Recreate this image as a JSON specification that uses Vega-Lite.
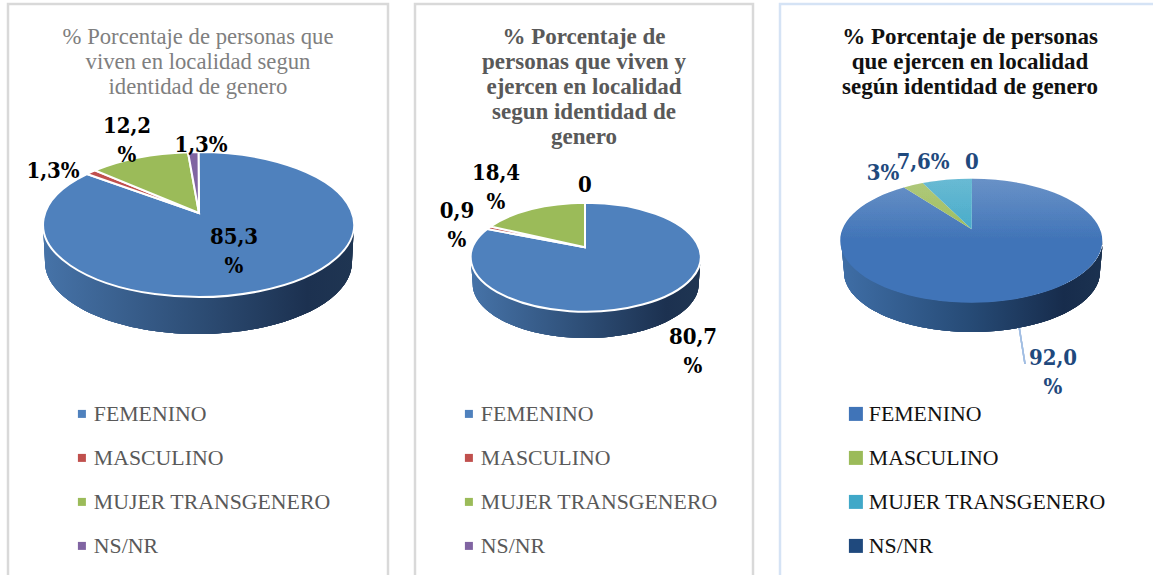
{"$schema":"https://vega.github.io/schema/vega-lite/v6.json","background":"white","padding":{"left":6,"top":2,"right":0,"bottom":0},"spacing":23,"resolve":{"scale":{"color":"independent","fill":"independent","shape":"independent"},"legend":{"color":"independent"}},"datasets":{"p1":[{"category":"FEMENINO","slice":"a","value":85.3,"label":"85,3\n%"},{"category":"MASCULINO","slice":"b","value":1.3,"label":"1,3%"},{"category":"MUJER TRANSGENERO","slice":"c","value":12.2,"label":"12,2\n%"},{"category":"NS/NR","slice":"d","value":1.3,"label":"1,3%"}],"p2":[{"category":"FEMENINO","slice":"a","value":80.7,"label":"80,7\n%"},{"category":"MASCULINO","slice":"b","value":0.9,"label":"0,9\n%"},{"category":"MUJER TRANSGENERO","slice":"c","value":18.4,"label":"18,4\n%"},{"category":"NS/NR","slice":"d","value":0,"label":"0"}],"p3":[{"category":"FEMENINO","slice":"a","value":92.0,"label":"92,0\n%"},{"category":"MASCULINO","slice":"b","value":3,"label":"3%"},{"category":"MUJER TRANSGENERO","slice":"c","value":7.6,"label":"7,6%"},{"category":"NS/NR","slice":"d","value":0,"label":"0"}]},"config":{"text":{"font":"DejaVu Serif Condensed","fontWeight":"bold","fontSize":22,"lineBreak":"\n","lineHeight":29,"baseline":"middle","align":"center","color":"#000000"},"title":{"font":"Liberation Serif","fontSize":23,"lineHeight":25,"anchor":"middle","frame":"group","baseline":"top"},"legend":{"orient":"none","title":null,"labelFont":"Liberation Serif","labelFontSize":21.8,"symbolStrokeWidth":0,"padding":0,"rowPadding":21,"labelLimit":400}},"hconcat":[{"width":380,"height":590,"view":{"stroke":"#d9d9d9","strokeWidth":2.5},"title":{"text":["% Porcentaje de personas que","viven en localidad segun","identidad de genero"],"color":"#7f7f7f","fontWeight":"normal","fontSize":22.7,"offset":-95},"data":{"name":"p1"},"layer":[{"mark":{"type":"point","filled":true,"opacity":1,"size":0,"shape":"square"},"encoding":{"color":{"field":"category","type":"nominal","sort":null,"scale":{"domain":["FEMENINO","MASCULINO","MUJER TRANSGENERO","NS/NR"],"range":["#4f81bd","#c0504d","#9bbb59","#8064a2"]},"legend":{"symbolType":"square","legendX":63,"legendY":399,"symbolSize":64,"labelOffset":1,"labelColor":"#595959","encode":{"symbols":{"update":{"shape":{"value":"square"}}}}}}}},{"mark":{"type":"point","filled":true,"opacity":1,"size":4,"shape":"M-155,-74.5 A155.5 72.5 0 0 0 156,-74.5 L154,-37 A153.5 72 0 0 1 -153,-37 Z","fill":{"gradient":"linear","x1":0,"y1":0,"x2":1,"y2":0,"stops":[{"offset":0,"color":"#4673a8"},{"offset":0.5,"color":"#2d4d75"},{"offset":0.85,"color":"#1c3150"},{"offset":1,"color":"#1f3552"}]}},"encoding":{}},{"mark":{"type":"point","filled":true,"opacity":1,"size":4,"strokeWidth":2},"encoding":{"fill":{"field":"slice","type":"nominal","legend":null,"scale":{"domain":["a","b","c","d"],"range":["#4f81bd","#c0504d","#9bbb59","#8064a2"]}},"stroke":{"value":"white"},"shape":{"field":"slice","type":"nominal","legend":null,"scale":{"domain":["a","b","c","d"],"range":["M1,-86 L0.5,-147 A155.5 72.5 0 1 1 -111,-125 Z","M1,-86 L-111,-125 A155.5 72.5 0 0 1 -103,-128.6 Z","M1,-86 L-103,-128.6 A155.5 72.5 0 0 1 -10,-146.8 Z","M1,-86 L-10,-146.8 A155.5 72.5 0 0 1 0.5,-147 Z"]}}}},{"transform":[{"filter":"datum.category==='FEMENINO'"}],"mark":{"type":"text","dx":36,"dy":-62},"encoding":{"text":{"field":"label"}}},{"transform":[{"filter":"datum.category==='MASCULINO'"}],"mark":{"type":"text","dx":-145,"dy":-128},"encoding":{"text":{"field":"label"}}},{"transform":[{"filter":"datum.category==='MUJER TRANSGENERO'"}],"mark":{"type":"text","dx":-71,"dy":-173},"encoding":{"text":{"field":"label"}}},{"transform":[{"filter":"datum.category==='NS/NR'"}],"mark":{"type":"text","dx":3,"dy":-154},"encoding":{"text":{"field":"label"}}}]},{"width":338,"height":590,"view":{"stroke":"#d9d9d9","strokeWidth":2.5},"title":{"text":["% Porcentaje de","personas que viven y","ejercen en localidad","segun  identidad de","genero"],"color":"#595959","fontWeight":"bold","offset":-145},"data":{"name":"p2"},"layer":[{"mark":{"type":"point","filled":true,"opacity":1,"size":0,"shape":"square"},"encoding":{"color":{"field":"category","type":"nominal","sort":null,"scale":{"domain":["FEMENINO","MASCULINO","MUJER TRANSGENERO","NS/NR"],"range":["#4f81bd","#c0504d","#9bbb59","#8064a2"]},"legend":{"symbolType":"square","legendX":43,"legendY":399,"symbolSize":64,"labelOffset":1,"labelColor":"#595959","encode":{"symbols":{"update":{"shape":{"value":"square"}}}}}}}},{"mark":{"type":"point","filled":true,"opacity":1,"size":4,"shape":"M-113.3,-41.8 A115 54.5 0 0 0 116.7,-41.8 L114.7,-15 A113 54 0 0 1 -111.3,-15 Z","fill":{"gradient":"linear","x1":0,"y1":0,"x2":1,"y2":0,"stops":[{"offset":0,"color":"#4673a8"},{"offset":0.5,"color":"#2d4d75"},{"offset":0.85,"color":"#1c3150"},{"offset":1,"color":"#1f3552"}]}},"encoding":{}},{"mark":{"type":"point","filled":true,"opacity":1,"size":4,"strokeWidth":2},"encoding":{"fill":{"field":"slice","type":"nominal","legend":null,"scale":{"domain":["a","b","c","d"],"range":["#4f81bd","#c0504d","#9bbb59","#8064a2"]}},"stroke":{"value":"white"},"shape":{"field":"slice","type":"nominal","legend":null,"scale":{"domain":["a","b","c","d"],"range":["M1,-51.7 L1,-96.3 A115 54.5 0 1 1 -96.7,-70 Z","M1,-51.7 L-96.7,-70 A115 54.5 0 0 1 -93.3,-72.5 Z","M1,-51.7 L-93.3,-72.5 A115 54.5 0 0 1 1,-96.3 Z","M1,-96.3 Z"]}}}},{"transform":[{"filter":"datum.category==='FEMENINO'"}],"mark":{"type":"text","dx":109,"dy":38},"encoding":{"text":{"field":"label"}}},{"transform":[{"filter":"datum.category==='MASCULINO'"}],"mark":{"type":"text","dx":-127,"dy":-88},"encoding":{"text":{"field":"label"}}},{"transform":[{"filter":"datum.category==='MUJER TRANSGENERO'"}],"mark":{"type":"text","dx":-88,"dy":-126},"encoding":{"text":{"field":"label"}}},{"transform":[{"filter":"datum.category==='NS/NR'"}],"mark":{"type":"text","dx":1,"dy":-114},"encoding":{"text":{"field":"label"}}}]},{"width":380,"height":590,"view":{"stroke":"#d5e3f5","strokeWidth":2.5},"title":{"text":["% Porcentaje  de personas","que ejercen en localidad","según identidad de genero"],"color":"#111111","fontWeight":"bold","offset":-95},"data":{"name":"p3"},"layer":[{"mark":{"type":"point","filled":true,"opacity":1,"size":0,"shape":"square"},"encoding":{"color":{"field":"category","type":"nominal","sort":null,"scale":{"domain":["FEMENINO","MASCULINO","MUJER TRANSGENERO","NS/NR"],"range":["#4074b8","#9bbb59","#40a8c8","#1f497d"]},"legend":{"symbolType":"square","legendX":65,"legendY":399,"symbolSize":196,"labelOffset":2,"labelColor":"#111111","encode":{"symbols":{"update":{"shape":{"value":"square"}}}}}}}},{"mark":{"type":"point","filled":true,"opacity":1,"size":4,"shape":"M-129,-58.5 A131 62 0 0 0 133,-58.5 L130,-27 A128 60 0 0 1 -126,-27 Z","fill":{"gradient":"linear","x1":0,"y1":0,"x2":1,"y2":0,"stops":[{"offset":0,"color":"#3f6ea6"},{"offset":0.5,"color":"#264a75"},{"offset":0.85,"color":"#172c4c"},{"offset":1,"color":"#1b3250"}]}},"encoding":{}},{"mark":{"type":"point","filled":true,"opacity":1,"size":4,"strokeWidth":0},"encoding":{"fill":{"field":"slice","type":"nominal","legend":null,"scale":{"domain":["a","b","c","d"],"range":["#4074b8","#9bbb59","#40a8c8","#1f497d"]}},"shape":{"field":"slice","type":"nominal","legend":null,"scale":{"domain":["a","b","c","d"],"range":["M1.7,-69.7 L2,-120.3 A131 62 0 1 1 -66,-111.5 Z","M1.7,-69.7 L-66,-111.5 A131 62 0 0 1 -47.3,-116 Z","M1.7,-69.7 L-47.3,-116 A131 62 0 0 1 2,-120.3 Z","M2,-120.3 Z"]}}}},{"mark":{"type":"point","filled":true,"opacity":1,"size":4,"shape":"M-129,-58.5 A131 62 0 0 1 133,-58.5 Z","fill":{"gradient":"linear","x1":0,"y1":0,"x2":0,"y2":1,"stops":[{"offset":0,"color":"rgba(255,255,255,0.06)"},{"offset":1,"color":"rgba(255,255,255,0)"}]}},"encoding":{}},{"mark":{"type":"point","filled":false,"opacity":1,"size":4,"shape":"M49.3,29 L55,65","stroke":"#a3bfe3","strokeWidth":1.5},"encoding":{}},{"transform":[{"filter":"datum.category==='FEMENINO'"}],"mark":{"type":"text","dx":83,"dy":59,"color":"#1f497d"},"encoding":{"text":{"field":"label"}}},{"transform":[{"filter":"datum.category==='MASCULINO'"}],"mark":{"type":"text","dx":-87,"dy":-126,"color":"#1f497d"},"encoding":{"text":{"field":"label"}}},{"transform":[{"filter":"datum.category==='MUJER TRANSGENERO'"}],"mark":{"type":"text","dx":-47,"dy":-137,"color":"#1f497d"},"encoding":{"text":{"field":"label"}}},{"transform":[{"filter":"datum.category==='NS/NR'"}],"mark":{"type":"text","dx":2,"dy":-137,"color":"#1f497d"},"encoding":{"text":{"field":"label"}}}]}]}
